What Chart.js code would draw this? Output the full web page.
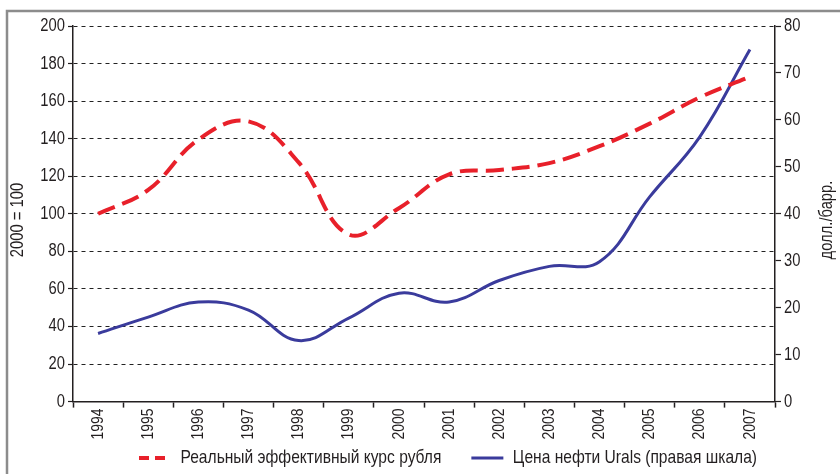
<!DOCTYPE html>
<html>
<head>
<meta charset="utf-8">
<script src="https://cdn.jsdelivr.net/npm/chart.js@4/dist/chart.umd.min.js"></script>
<style>
  html, body { margin: 0; padding: 0; background: #fff; }
  #wrap { position: relative; width: 840px; height: 474px; }
</style>
</head>
<body>
<div id="wrap"><canvas id="chart"></canvas></div>
<script>
// данные графика
var years = ['1994','1995','1996','1997','1998','1999','2000','2001','2002','2003','2004','2005','2006','2007'];
var reerValues = [100, 112.7, 139.5, 149.2, 127.4, 89, 103, 121, 123.3, 127, 136, 148, 162, 173];
var uralsValues = [14.5, 18, 21.2, 19.5, 13, 17.8, 23.1, 21.2, 25.8, 28.8, 29.8, 43.6, 56.4, 75];
var leftTicks = [0, 20, 40, 60, 80, 100, 120, 140, 160, 180, 200];
var rightTicks = [0, 10, 20, 30, 40, 50, 60, 70, 80];
var reerLabel = 'Реальный эффективный курс рубля';
var uralsLabel = 'Цена нефти Urals (правая шкала)';
var leftTitle = '2000 = 100';
var rightTitle = 'долл./барр.';

var FONT = "'Liberation Sans', Arial, sans-serif";
var TEXT = '#231f20';
var RED = '#e8202a';
var BLUE = '#3a3b9c';
var NARROW = 0.82; // узкий шрифт: сжимаем текст по горизонтали

// узкое начертание через сжатие текста на канвасе
var canvas = document.getElementById('chart');
var ctx2d = canvas.getContext('2d');
var _fillText = ctx2d.fillText.bind(ctx2d);
var _measureText = ctx2d.measureText.bind(ctx2d);
ctx2d.fillText = function(text, x, y, maxWidth) {
  ctx2d.save();
  ctx2d.translate(x, y);
  ctx2d.scale(NARROW, 1);
  if (maxWidth !== undefined) _fillText(text, 0, 0, maxWidth / NARROW);
  else _fillText(text, 0, 0);
  ctx2d.restore();
};
ctx2d.measureText = function(text) {
  var m = _measureText(text);
  return {
    width: m.width * NARROW,
    actualBoundingBoxAscent: m.actualBoundingBoxAscent,
    actualBoundingBoxDescent: m.actualBoundingBoxDescent,
    actualBoundingBoxLeft: m.actualBoundingBoxLeft * NARROW,
    actualBoundingBoxRight: m.actualBoundingBoxRight * NARROW,
  };
};

function drawVerticalTitle(ctx, text, x, y) {
  ctx.save();
  ctx.translate(x, y);
  ctx.rotate(-Math.PI / 2);
  ctx.font = '18px ' + FONT;
  ctx.fillStyle = TEXT;
  ctx.textAlign = 'center';
  ctx.textBaseline = 'middle';
  ctx.fillText(text, 0, 0);
  ctx.restore();
}

// рамка слева и сверху, подписи осей, положение легенды
var decorPlugin = {
  id: 'decor',
  afterLayout: function(chart) {
    var lg = chart.legend;
    lg.left += 28; lg.right += 28;
    lg.top = 418.5; lg.bottom = 474;
  },
  beforeDraw: function(chart) {
    var ctx = chart.ctx;
    ctx.save();
    ctx.strokeStyle = '#8c8c8c';
    ctx.lineWidth = 2.5;
    ctx.beginPath();
    ctx.moveTo(7, 474);
    ctx.lineTo(7, 11);
    ctx.lineTo(840, 11);
    ctx.stroke();
    ctx.restore();
  },
  afterDraw: function(chart) {
    drawVerticalTitle(chart.ctx, leftTitle, 18, 220);
    drawVerticalTitle(chart.ctx, rightTitle, 827, 220);
  }
};

new Chart(canvas, {
  type: 'line',
  data: {
    labels: years,
    datasets: [{
      label: reerLabel,
      data: reerValues,
      yAxisID: 'y',
      borderColor: RED,
      backgroundColor: RED,
      borderWidth: 4,
      borderDash: [18, 8],
      pointRadius: 0,
      tension: 0.4,
      fill: false,
    }, {
      label: uralsLabel,
      data: uralsValues,
      yAxisID: 'y1',
      borderColor: BLUE,
      backgroundColor: BLUE,
      borderWidth: 3,
      pointRadius: 0,
      tension: 0.4,
      fill: false,
    }],
  },
  options: {
    responsive: true,
    maintainAspectRatio: false,
    animation: false,
    layout: { padding: { left: 0, right: 0, top: 26, bottom: 0 } },
    plugins: {
      tooltip: { enabled: false },
      legend: {
        position: 'bottom',
        maxHeight: 28.4,
        labels: {
          font: { family: FONT, size: 19 },
          color: TEXT,
          padding: 30,
          usePointStyle: true,
          pointStyleWidth: 32,
          generateLabels: function(chart) {
            return chart.data.datasets.map(function(ds, i) {
              return {
                text: ds.label,
                fillStyle: ds.borderColor,
                strokeStyle: ds.borderColor,
                lineWidth: ds.borderWidth,
                lineDash: ds.borderDash ? [10, 6] : [],
                pointStyle: 'line',
                fontColor: TEXT,
                datasetIndex: i,
              };
            });
          },
        },
      },
    },
    scales: {
      x: {
        offset: true,
        afterFit: function(s) { s.height = 44; },
        grid: { offset: true, drawOnChartArea: false, tickLength: 6, tickColor: TEXT, tickWidth: 1.5 },
        border: { color: TEXT, width: 1.5 },
        ticks: {
          minRotation: 90, maxRotation: 90, autoSkip: false, padding: 1,
          font: { family: FONT, size: 17 }, color: TEXT,
        },
      },
      y: {
        position: 'left',
        min: 0, max: 200,
        afterFit: function(s) { s.width = 73; },
        afterBuildTicks: function(s) { s.ticks = leftTicks.map(function(v) { return { value: v }; }); },
        grid: { color: '#222', lineWidth: 1, tickLength: 5, tickColor: TEXT, tickWidth: 1.2 },
        border: { color: TEXT, width: 1.5, dash: [4, 4] },
        ticks: { padding: 3, font: { family: FONT, size: 18 }, color: TEXT },
      },
      y1: {
        position: 'right',
        min: 0, max: 80,
        afterFit: function(s) { s.width = 65; },
        afterBuildTicks: function(s) { s.ticks = rightTicks.map(function(v) { return { value: v }; }); },
        grid: { drawOnChartArea: false, tickLength: 6, tickColor: TEXT, tickWidth: 1.2 },
        border: { color: TEXT, width: 1.5 },
        ticks: { padding: 3, font: { family: FONT, size: 18 }, color: TEXT },
      },
    },
  },
  plugins: [decorPlugin],
});
</script>
</body>
</html>
